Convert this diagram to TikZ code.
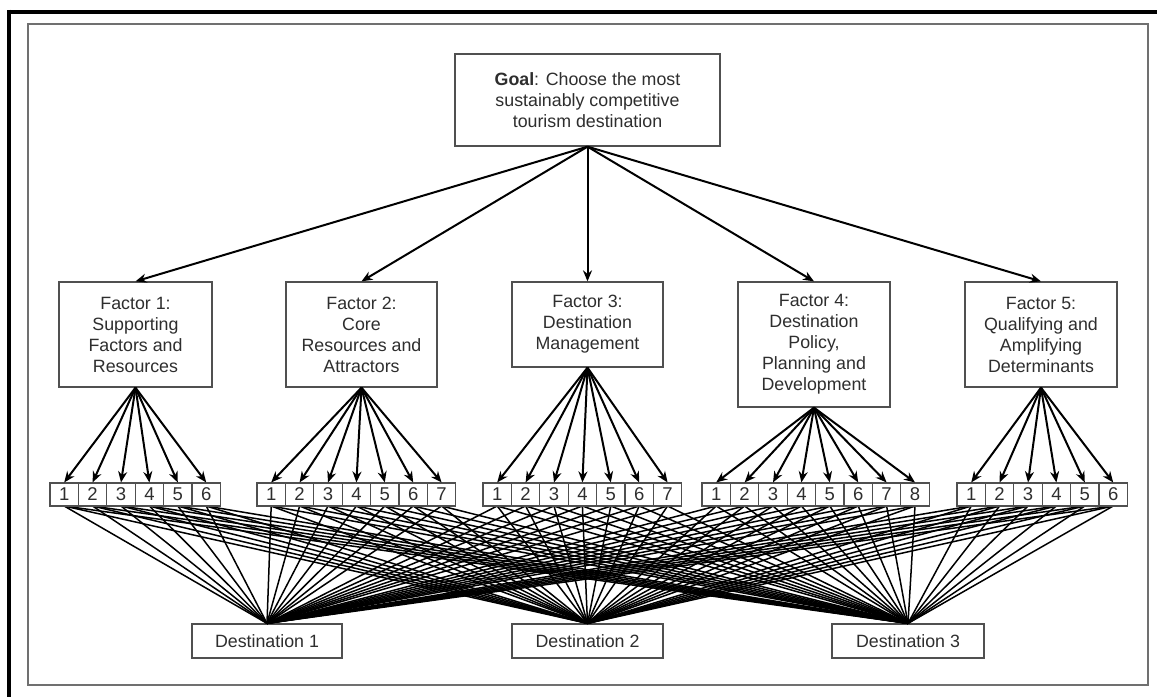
\documentclass[tikz,border=0pt]{standalone}
\usepackage{fontspec}
\setmainfont{Liberation Sans}
\usetikzlibrary{arrows.meta}
\definecolor{ink}{HTML}{2E2E2E}
\definecolor{boxline}{HTML}{505050}
\definecolor{framegray}{HTML}{707070}

\begin{document}
\begin{tikzpicture}[x=1pt,y=-1pt,
  box/.style={draw=boxline, line width=1.3pt, fill=white, text=ink,
    align=center, inner sep=0pt,
    font=\fontsize{17.8}{21}\selectfont},
  subbox/.style={draw=boxline, line width=1.1pt, fill=white, text=ink,
    inner sep=0pt, minimum width=28.4pt, minimum height=23pt,
    font=\fontsize{18.5}{20}\selectfont},
  arr/.style={line width=2pt, -{Stealth[length=11pt,width=9pt]}},
  link/.style={line width=1.5pt, black}]

\useasboundingbox (0,0) rectangle (1157,697);

% page frames
\draw[framegray, line width=1.5pt] (28,24) rectangle (1148,685);
\draw[black, line width=4pt] (7,11.5) -- (1157,11.5);
\draw[black, line width=4pt] (9,9.5) -- (9,697);

% goal and factors
\node[box, minimum width=265pt, minimum height=92pt] (goal) at (587.5,100)
  {\textbf{Goal}: Choose the most\\sustainably competitive\\tourism destination};
\node[box, minimum width=153pt, minimum height=105pt] (f1) at (135.5,334.5)
  {Factor 1:\\Supporting\\Factors and\\Resources};
\node[box, minimum width=151pt, minimum height=105pt] (f2) at (361.5,334.5)
  {Factor 2:\\Core\\Resources and\\Attractors};
\node[box, minimum width=151pt, minimum height=85pt] (f3) at (587.5,324.5)
  {Factor 3:\\Destination\\Management};
\node[box, minimum width=152pt, minimum height=125pt] (f4) at (814,344.5)
  {Factor 4:\\Destination\\Policy,\\Planning and\\Development};
\node[box, minimum width=152pt, minimum height=105pt] (f5) at (1041,334.5)
  {Factor 5:\\Qualifying and\\Amplifying\\Determinants};

% destinations
\node[box, minimum width=150pt, minimum height=34pt] (d1) at (267,641) {Destination 1};
\node[box, minimum width=151pt, minimum height=34pt] (d2) at (587.5,641) {Destination 2};
\node[box, minimum width=152pt, minimum height=34pt] (d3) at (908,641) {Destination 3};

% links from every sub-factor to every destination (drawn first, under the boxes)
\foreach \g/\n/\left in {1/6/50, 2/7/257, 3/7/483, 4/8/702, 5/6/957}{
  \foreach \i in {1,...,\n}{
    \coordinate (c-\g-\i) at ({\left+(\i-0.5)*28.4},506);
    \foreach \d in {d1,d2,d3}
      \draw[link] (c-\g-\i) -- (\d.north);
  }
}

% sub-factor boxes
\foreach \g/\n/\left in {1/6/50, 2/7/257, 3/7/483, 4/8/702, 5/6/957}{
  \foreach \i in {1,...,\n}{
    \node[subbox] (s-\g-\i) at ({\left+(\i-0.5)*28.4},494.5) {\i};
    \draw[arr] (f\g.south) -- (s-\g-\i.north);
  }
}

% goal to factors
\foreach \f in {f1,f2,f3,f4,f5}
  \draw[arr] (goal.south) -- (\f.north);

\end{tikzpicture}
\end{document}
